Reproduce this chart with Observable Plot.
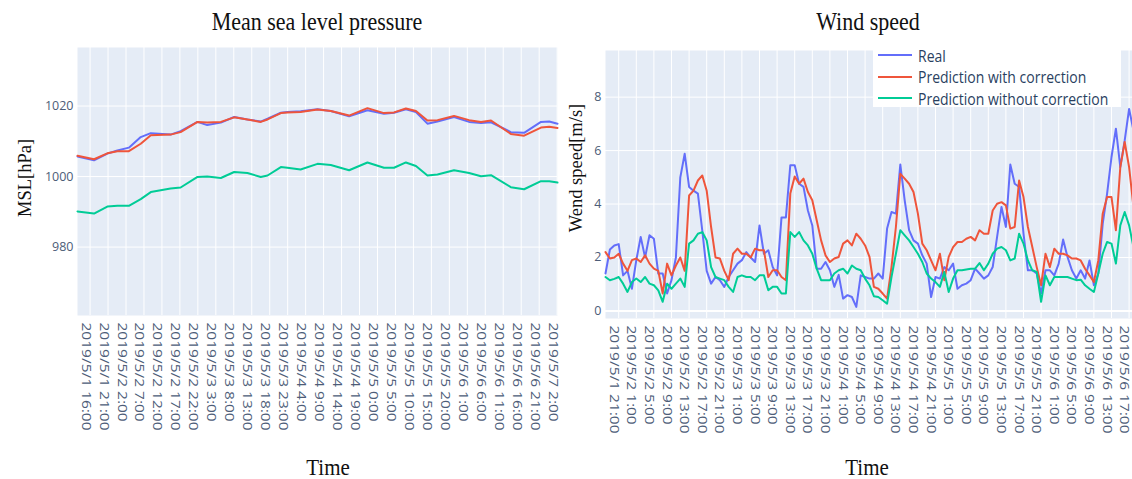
<!DOCTYPE html>
<html><head><meta charset="utf-8">
<script src="https://cdn.jsdelivr.net/npm/d3@7"></script>
<script src="https://cdn.jsdelivr.net/npm/@observablehq/plot@0.6"></script>
<style>
body{margin:0;background:#fff;}
#wrap{position:relative;width:1132px;height:479px;overflow:hidden;font-family:"Open Sans",sans-serif;}
.serif{position:absolute;font-family:"Liberation Serif","Times New Roman",serif;color:#111;white-space:nowrap;line-height:1;}
.chart{position:absolute;top:0;}
#legend{position:absolute;left:873px;top:44px;width:248px;height:63px;background:#fff;}
.lrow{position:absolute;left:5px;height:20px;display:flex;align-items:center;}
.lrow span{font-family:"Open Sans",sans-serif;font-size:14px;color:#2a3f5f;margin-left:6px;display:inline-block;transform:scaleY(1.15);}
</style></head>
<body><div id="wrap"></div>
<script>
// ---------- data ----------
const seriesNames = ["Real", "Prediction with correction", "Prediction without correction"];
const seriesColors = ["#636EFA", "#EF553B", "#00CC96"];

// Mean sea level pressure (hours since 2019/5/1 0:00)
const mslHours = [12.5,17.1,20.8,23.6,26.8,30.1,32.9,38.4,41.2,45.9,48.6,52.4,56.1,59.8,63.5,65.4,69.1,70.9,74.6,79.3,83.0,88.1,93.2,97.8,100.6,103.9,106.7,109.9,112.7,117.3,121.5,124.8,127.6,133.1,136.8,141.5,143.8,146.1];
const mslReal = [1005.7,1004.6,1006.5,1007.4,1008.2,1011.2,1012.3,1011.9,1012.9,1015.5,1014.6,1015.3,1016.9,1016.2,1015.6,1016.4,1018.1,1018.3,1018.5,1019.1,1018.6,1017.1,1018.8,1017.8,1018.1,1019.1,1018.3,1015.0,1015.6,1016.9,1015.5,1015.2,1015.4,1012.6,1012.4,1015.5,1015.6,1015.0];
const mslCorr = [1005.9,1004.9,1006.6,1007.2,1007.2,1009.3,1011.7,1011.9,1012.6,1015.5,1015.3,1015.5,1016.8,1016.2,1015.5,1016.2,1018.0,1018.2,1018.3,1019.0,1018.6,1017.3,1019.4,1018.0,1018.2,1019.3,1018.6,1015.9,1016.0,1017.2,1016.0,1015.5,1015.9,1012.1,1011.6,1013.9,1014.1,1013.8];
const mslRaw = [990.1,989.5,991.5,991.7,991.7,993.6,995.6,996.6,996.9,999.9,1000.0,999.6,1001.3,1001.0,999.9,1000.3,1002.7,1002.5,1002.0,1003.6,1003.3,1001.8,1004.0,1002.5,1002.5,1004.0,1003.0,1000.3,1000.6,1001.8,1001.0,1000.1,1000.4,997.0,996.4,998.7,998.7,998.3];
const mslTickLabels = ["2019/5/1 16:00","2019/5/1 21:00","2019/5/2 2:00","2019/5/2 7:00","2019/5/2 12:00","2019/5/2 17:00","2019/5/2 22:00","2019/5/3 3:00","2019/5/3 8:00","2019/5/3 13:00","2019/5/3 18:00","2019/5/3 23:00","2019/5/4 4:00","2019/5/4 9:00","2019/5/4 14:00","2019/5/4 19:00","2019/5/5 0:00","2019/5/5 5:00","2019/5/5 10:00","2019/5/5 15:00","2019/5/5 20:00","2019/5/6 1:00","2019/5/6 6:00","2019/5/6 11:00","2019/5/6 16:00","2019/5/6 21:00","2019/5/7 2:00"];
const mslYTicks = [980, 1000, 1020];

// Wind speed, hourly from 2019/5/1 18:00 (hour 18) to hour 138
const windStartHour = 18;
const windReal = [1.4,2.3,2.45,2.5,1.33,1.5,0.83,1.9,2.77,2.0,2.83,2.7,1.4,1.4,0.65,1.15,2.0,5.0,5.88,4.64,4.5,4.39,3.0,1.5,1.02,1.27,1.15,0.9,1.27,1.52,1.77,1.9,2.2,2.0,1.83,3.2,2.14,2.27,1.64,1.33,3.5,3.5,5.45,5.45,4.76,4.64,3.76,3.2,1.58,1.58,1.83,1.52,0.9,
  1.35,0.46,0.59,0.52,0.15,1.33,
  1.27,1.21,1.21,1.4,1.21,3.08,3.7,3.64,5.48,4.14,3.02,2.64,2.52,2.08,1.77,0.52,1.27,1.21,1.64,1.52,1.77,0.83,0.96,1.02,1.15,1.58,1.4,1.21,1.33,1.64,2.77,3.89,3.14,5.48,4.76,4.64,2.89,1.52,1.52,1.4,0.65,1.52,1.52,1.33,1.77,2.67,2.02,1.52,1.21,1.52,1.21,1.89,0.96,1.4,3.26,4.39,5.76,6.82,5.38,6.38,7.56,6.75];
const windCorr = [2.2,1.96,2.0,2.14,1.77,1.5,1.9,1.96,1.83,2.08,1.77,1.58,1.5,0.65,1.77,1.33,1.7,2.0,1.5,4.32,4.5,4.88,5.07,4.5,3.14,2.0,1.96,1.5,1.15,2.14,2.33,2.14,2.14,2.0,2.33,2.27,2.27,1.27,1.52,1.52,1.27,1.15,4.39,5.03,4.76,4.95,4.45,4.14,3.39,2.64,2.08,1.83,1.96,2.02,2.52,2.64,2.45,2.89,2.7,
  2.45,2.02,0.9,0.83,0.65,0.46,1.64,3.14,5.13,4.95,4.76,4.45,3.64,2.52,2.27,1.89,1.52,2.14,1.15,2.02,2.39,2.58,2.58,2.7,2.77,2.64,3.02,2.89,2.89,3.76,4.01,4.07,3.95,3.08,3.14,4.88,4.26,3.14,2.39,1.64,0.96,2.14,1.64,2.33,2.14,2.14,2.08,1.96,1.96,1.89,1.58,1.33,1.08,1.89,3.64,4.26,4.26,3.02,5.38,6.32,5.38,3.89];
const windRaw = [1.27,1.15,1.2,1.27,1.02,0.71,1.08,1.21,1.08,1.27,1.02,0.96,0.77,0.34,1.02,0.83,1.02,1.21,0.9,2.52,2.64,2.89,2.95,2.64,1.64,1.27,1.21,1.15,0.9,0.71,1.27,1.33,1.27,1.27,1.15,1.33,1.33,0.77,0.9,0.9,0.65,0.65,2.95,2.77,2.95,2.64,2.45,2.14,1.58,1.15,1.15,1.15,1.4,1.52,1.58,1.4,1.7,1.58,1.52,
  1.21,0.96,0.55,0.52,0.4,0.27,1.27,2.14,3.02,2.83,2.64,2.39,2.14,1.83,1.4,1.21,1.08,0.9,1.46,0.71,1.21,1.52,1.52,1.55,1.58,1.58,1.79,1.52,1.77,2.14,2.33,2.39,2.27,1.89,1.96,2.89,2.52,1.89,1.52,1.46,0.34,1.33,0.96,1.27,1.27,1.27,1.27,1.21,1.15,1.17,0.96,0.83,0.71,1.4,2.14,2.58,2.52,1.77,3.2,3.7,3.2,2.39];
const windTickLabels = ["2019/5/1 21:00","2019/5/2 1:00","2019/5/2 5:00","2019/5/2 9:00","2019/5/2 13:00","2019/5/2 17:00","2019/5/2 21:00","2019/5/3 1:00","2019/5/3 5:00","2019/5/3 9:00","2019/5/3 13:00","2019/5/3 17:00","2019/5/3 21:00","2019/5/4 1:00","2019/5/4 5:00","2019/5/4 9:00","2019/5/4 13:00","2019/5/4 17:00","2019/5/4 21:00","2019/5/5 1:00","2019/5/5 5:00","2019/5/5 9:00","2019/5/5 13:00","2019/5/5 17:00","2019/5/5 21:00","2019/5/6 1:00","2019/5/6 5:00","2019/5/6 9:00","2019/5/6 13:00","2019/5/6 17:00"];
const windYTicks = [0, 2, 4, 6, 8];

// ---------- helpers ----------
function labelHour(s) {
  const [date, time] = s.split(" ");
  const day = +date.split("/")[2];
  const hr = +time.split(":")[0];
  return (day - 1) * 24 + hr;
}
// stretch text along its own direction (glyph stretch), no change to position
function stretchLength(svg, selector, k) {
  svg.querySelectorAll(selector).forEach(t => {
    const L = t.getComputedTextLength();
    if (L > 0) {
      t.setAttribute("textLength", (L * k).toFixed(1));
      t.setAttribute("lengthAdjust", "spacingAndGlyphs");
    }
  });
}
function tidy(hours, arrays) {
  const out = [];
  arrays.forEach((arr, si) => arr.forEach((v, i) => out.push({t: hours[i], v, s: seriesNames[si]})));
  return out;
}
const colorScale = {domain: seriesNames, range: seriesColors};
const BG = "#E5ECF6", TICK = "#4d5d78";

function panel({width, height, mL, mR, mT, mB, xDomain, yDomain, data, tickLabels, yTicks, zero, labelDx}) {
  const tickHours = tickLabels.map(labelHour);
  const lab = new Map(tickHours.map((h, i) => [h, tickLabels[i]]));
  return Plot.plot({
    width, height, marginLeft: mL, marginRight: mR, marginTop: mT, marginBottom: mB,
    style: {fontFamily: "Open Sans, sans-serif", fontSize: "12px", color: TICK, background: "transparent", overflow: "visible"},
    x: {domain: xDomain},
    y: {domain: yDomain},
    color: colorScale,
    marks: [
      Plot.frame({fill: BG, stroke: null}),
      Plot.gridX(tickHours, {stroke: "#fff", strokeOpacity: 1, strokeWidth: 1}),
      Plot.gridY(yTicks, {stroke: "#fff", strokeOpacity: 1, strokeWidth: 1}),
      zero ? Plot.ruleY([0], {stroke: "#fff", strokeWidth: 2}) : null,
      Plot.line(data, {x: "t", y: "v", z: "s", stroke: "s", strokeWidth: 2, curve: "linear"}),
      Plot.axisX(tickHours, {tickRotate: 90, tickSize: 0, tickPadding: 7, dx: labelDx, fontSize: 12.5,
        tickFormat: h => lab.get(h), label: null, fill: TICK}),
      Plot.axisY(yTicks, {tickSize: 0, tickPadding: 4, label: null, fontSize: 12.5, fill: TICK,
        tickFormat: d => String(d)})
    ]
  });
}

const wrap = document.getElementById("wrap");

// left panel
const left = panel({
  width: 570, height: 445, mL: 77, mR: 13, mT: 47, mB: 130,
  xDomain: [12.5, 146.1], yDomain: [960.6, 1036.6],
  data: tidy(mslHours, [mslReal, mslCorr, mslRaw]),
  tickLabels: mslTickLabels, yTicks: mslYTicks, zero: false, labelDx: -4.5
});
left.classList.add("chart"); left.style.left = "0px";
wrap.appendChild(left);

// right panel
const windHours = windReal.map((_, i) => windStartHour + i);
const right = panel({
  width: 590, height: 445, mL: 50, mR: 12, mT: 50, mB: 127,
  xDomain: [18, 138], yDomain: [-0.284, 9.746],
  data: tidy(windHours, [windReal, windCorr, windRaw]),
  tickLabels: windTickLabels, yTicks: windYTicks, zero: true, labelDx: -5
});
right.classList.add("chart"); right.style.left = "555px";
wrap.appendChild(right);

[left, right].forEach(svg => stretchLength(svg, 'g[aria-label="x-axis tick label"] text', 1.24));

// texts
function addText(txt, x, y, size, rotate, sy) {
  const d = document.createElement("div");
  d.className = "serif";
  d.textContent = txt;
  d.style.left = x + "px"; d.style.top = y + "px"; d.style.fontSize = size + "px";
  d.style.transform = `translate(-50%,-50%)` + (rotate ? ` rotate(${rotate}deg)` : "") + (sy ? ` scaleY(${sy})` : "");
  wrap.appendChild(d);
}
addText("Mean sea level pressure", 317, 22, 22, 0, 1.1);
addText("Wind speed", 868, 22, 22, 0, 1.1);
addText("MSL[hPa]", 25, 178, 18.5, -90, 0);
addText("Wend speed[m/s]", 576, 168, 18.5, -90, 0);
addText("Time", 328, 468, 21, 0, 1.05);
addText("Time", 867, 468, 21, 0, 1.05);

// legend
const legend = document.createElement("div");
legend.id = "legend";
seriesNames.forEach((name, i) => {
  const row = document.createElement("div");
  row.className = "lrow";
  row.style.top = (1 + i * 21.5) + "px";
  row.innerHTML = `<svg width="34" height="20"><line x1="0" x2="34" y1="10" y2="10" stroke="${seriesColors[i]}" stroke-width="2"/></svg><span>${name}</span>`;
  legend.appendChild(row);
});
wrap.appendChild(legend);
</script>
</body></html>
